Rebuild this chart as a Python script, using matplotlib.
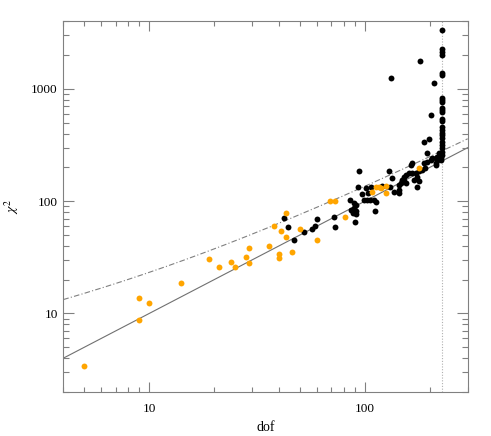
import numpy as np
import matplotlib
matplotlib.use("Agg")
import matplotlib.pyplot as plt
from matplotlib.ticker import FixedLocator, NullFormatter

# orange sample (dof, chi2)
orange_dof = [5, 9, 9, 10, 14, 19, 21, 24, 25, 28, 29, 29, 36, 38, 40, 40, 41, 43, 43, 46,
              50, 60, 69, 73, 81, 108, 113, 117, 119, 125, 126, 178]
orange_chi2 = [3.4, 13.6, 8.7, 12.4, 18.6, 30.6, 26.2, 29, 25.8, 31.7, 38.4, 28, 40, 60, 34, 31,
               54, 78, 48, 35, 57, 45, 101, 101, 73, 122, 133, 135, 131, 137, 119, 199]

# black sample (dof, chi2)
black_dof = [42, 44, 47, 52, 57, 59, 60, 72, 73,
             85, 89, 91, 86, 89, 91, 88, 91, 90, 111,
             99, 102, 106, 110, 113,
             94, 93, 101, 107, 97, 103, 120,
             134, 131, 136, 129, 144, 144, 144,
             147, 149, 152, 152, 155, 155, 160, 166, 169, 172, 175, 175, 178, 178,
             163, 166, 185, 188, 191, 195, 202, 206, 195, 188, 198,
             213, 217, 213, 225, 217, 221, 213,
             180, 132, 209, 202,
             229, 229, 229, 229, 229, 229, 229, 228, 229, 229, 228, 229, 229, 229,
             229, 228, 229, 229, 227, 229, 228, 229, 227, 229, 226]
black_chi2 = [71, 59, 45, 53, 56, 60, 70, 72, 59,
              103, 96, 93, 84, 87, 82, 78, 77, 65, 81,
              103, 103, 103, 103, 99,
              185, 135, 131, 135, 115, 118, 137,
              160, 135, 122, 186, 140, 126, 118,
              145, 155, 166, 150, 171, 145, 177, 177, 155, 177, 166, 135, 184, 150,
              210, 218, 190, 218, 197, 225, 233, 242, 267, 340, 357,
              242, 250, 218, 233, 233, 267, 210,
              1775, 1253, 1130, 586,
              3350, 2285, 2135, 1995, 1380, 1340, 826, 798, 771, 673, 650, 628, 537, 519,
              461, 431, 403, 389, 364, 340, 317, 296, 277, 258, 242]

dof_cut = 229
xlim = (4, 300)
ylim = (2, 4000)


def chi2_q99(k):
    # Wilson-Hilferty approximation of the 99% quantile
    z = 2.3263
    return k * (1 - 2 / (9 * k) + z * np.sqrt(2 / (9 * k))) ** 3


plt.rcParams['font.family'] = ['Liberation Serif', 'DejaVu Serif']
plt.rcParams['mathtext.fontset'] = 'stix'

fig = plt.figure(figsize=(4.91, 4.36), dpi=100, facecolor='white')
ax = fig.add_axes([0.129, 0.101, 0.8235, 0.850])

grid = np.logspace(np.log10(xlim[0]), np.log10(xlim[1]), 200)
ax.plot(grid, grid, color='#707070', lw=0.8, zorder=1)
ax.plot(grid, chi2_q99(grid), color='#808080', lw=0.8, ls=(0, (5, 2, 1, 2)), zorder=1)
ax.axvline(dof_cut, color='#b0b0b0', lw=0.8, ls=(0, (1, 1.5)), zorder=1)

ax.scatter(black_dof, black_chi2, s=18, color='black', lw=0, zorder=3)
ax.scatter(orange_dof, orange_chi2, s=18, color='#FFA500', lw=0, zorder=3)

ax.set_xscale('log')
ax.set_yscale('log')
ax.set_xlim(*xlim)
ax.set_ylim(*ylim)

ax.xaxis.set_major_locator(FixedLocator([10, 100]))
ax.set_xticklabels(['10', '100'])
ax.yaxis.set_major_locator(FixedLocator([10, 100, 1000]))
ax.set_yticklabels(['10', '100', '1000'])
ax.xaxis.set_minor_formatter(NullFormatter())
ax.yaxis.set_minor_formatter(NullFormatter())

for s in ax.spines.values():
    s.set_color('#808080')
    s.set_linewidth(0.8)
ax.tick_params(which='both', direction='in', top=True, right=True, color='#808080',
               width=0.8, labelsize=9.5, labelcolor='black')
ax.tick_params(axis='x', which='major', length=7, pad=8)
ax.tick_params(axis='x', which='minor', length=3.5)
ax.tick_params(axis='y', which='major', length=8, pad=4)
ax.tick_params(axis='y', which='minor', length=4)

ax.set_xlabel('dof', fontsize=10, labelpad=4)
ax.set_ylabel(r'$\chi^2$', fontsize=10, labelpad=7)

fig.savefig('out.png', dpi=100, facecolor='white')
